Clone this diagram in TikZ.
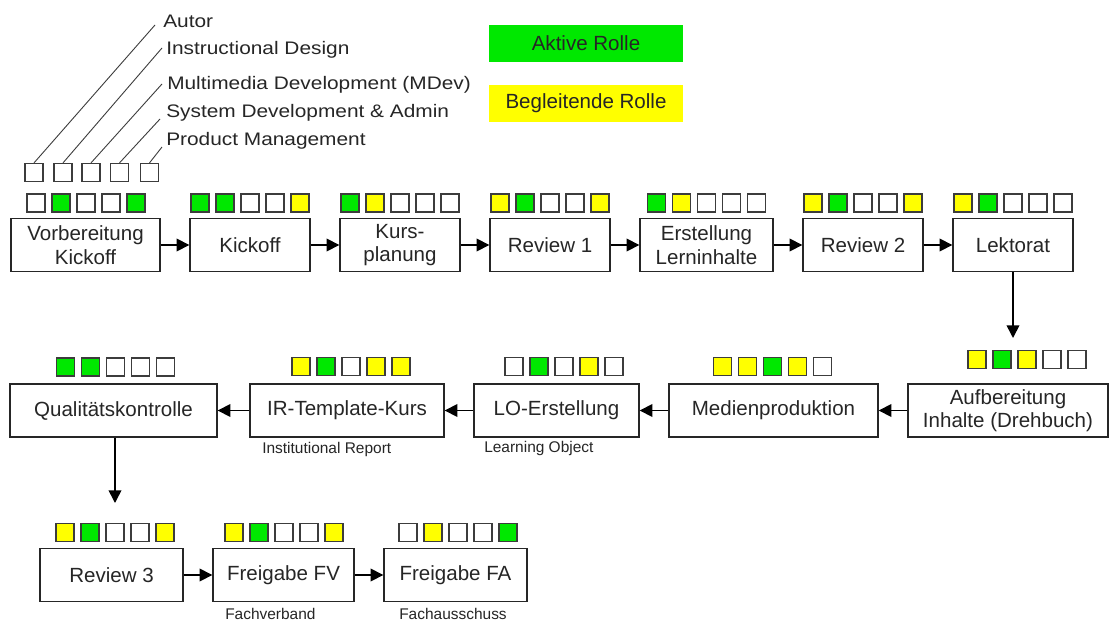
\documentclass[tikz,border=0pt]{standalone}
\usepackage{fontspec}
\setmainfont{Liberation Sans}
\newfontfamily\widefont{Liberation Sans}[FakeStretch=1.15]
\usetikzlibrary{arrows.meta,calc}

% one drawing unit = one pixel of the 1110 x 621 canvas
\newdimen\pxu \pxu=0.75pt

\definecolor{gn}{RGB}{0,232,0}
\definecolor{yl}{RGB}{255,255,0}
\definecolor{wh}{RGB}{255,255,255}
\definecolor{ink}{RGB}{38,38,38}
\definecolor{frame}{RGB}{60,60,60}

\tikzset{
  stepbox/.style={draw=ink, line width=1.4\pxu, fill=white, inner sep=0pt,
    align=center, text=ink, minimum height=53\pxu,
    font=\fontsize{15.4}{17.5}\selectfont},
  rolesq/.style={draw=frame, line width=1.2\pxu, minimum size=18\pxu, inner sep=0pt},
  keybox/.style={inner sep=0pt, minimum width=194\pxu, minimum height=37\pxu,
    text=ink, font=\fontsize{15.4}{17.5}\selectfont},
  rolelabel/.style={anchor=base west, inner sep=0pt, text=ink,
    font=\widefont\fontsize{13.6}{16}\selectfont},
  note/.style={anchor=west, inner sep=0pt, text=ink,
    font=\fontsize{11.6}{13}\selectfont},
  flow/.style={draw=black, line width=1.6\pxu,
    -{Triangle[length=9.5pt,width=9.5pt]}},
  pointer/.style={draw=frame, line width=0.9\pxu},
}

% five role squares centred at (#2,#3), named #1-1 ... #1-5
\newcommand\rolerow[4]{%
  \foreach \c [count=\i] in {#4} {
    \node[rolesq, fill=\c] (#1-\i) at ({#2+(\i-3)*25},#3) {};
  }%
}

\begin{document}
\begin{tikzpicture}[x=0.75pt, y=-0.75pt]
\useasboundingbox[fill=white] (0,0) rectangle (1110,621);

% ---- key: the five roles ----
\node[rolelabel] (lAutor) at (163,27)  {Autor};
\node[rolelabel] (lID)    at (166,54)  {Instructional Design};
\node[rolelabel] (lMDev)  at (167,89)  {Multimedia Development (MDev)};
\node[rolelabel] (lSys)   at (166,117) {System Development \& Admin};
\node[rolelabel] (lPM)    at (166,145) {Product Management};

\node[rolesq, fill=white] (k1) at (34,172.5)  {};
\node[rolesq, fill=white] (k2) at (63,172.5)  {};
\node[rolesq, fill=white] (k3) at (91,172.5)  {};
\node[rolesq, fill=white] (k4) at (119.5,172.5) {};
\node[rolesq, fill=white] (k5) at (149.5,172.5) {};

\draw[pointer] (k1.north) -- ($(lAutor.base west)+(-8,-2)$);
\draw[pointer] (k2.north) -- ($(lID.base west)+(-4,-6)$);
\draw[pointer] (k3.north) -- ($(lMDev.base west)+(-5,-5)$);
\draw[pointer] (k4.north) -- ($(lSys.base west)+(-6,2)$);
\draw[pointer] (k5.north) -- ($(lPM.base west)+(-4,2)$);

% ---- key: the two kinds of involvement ----
\node[keybox, fill=gn] (active) at (586,43.5)  {Aktive Rolle};
\node[keybox, fill=yl] (assist) at (586,103.5) {Begleitende Rolle};

% ---- first row ----
\node[stepbox, minimum width=149\pxu] (s1) at (85.5,245) {Vorbereitung\\Kickoff};
\node[stepbox, minimum width=120\pxu] (s2) at (250,245)  {Kickoff};
\node[stepbox, minimum width=120\pxu] (s3) at (400,245)  {Kurs-\\planung};
\node[stepbox, minimum width=120\pxu] (s4) at (550,245)  {Review 1};
\node[stepbox, minimum width=133\pxu] (s5) at (706.5,245) {Erstellung\\Lerninhalte};
\node[stepbox, minimum width=120\pxu] (s6) at (863,245)  {Review 2};
\node[stepbox, minimum width=120\pxu] (s7) at (1013,245) {Lektorat};

\rolerow{r1}{86}{203}{wh,gn,wh,wh,gn}
\rolerow{r2}{250}{203}{gn,gn,wh,wh,yl}
\rolerow{r3}{400}{203}{gn,yl,wh,wh,wh}
\rolerow{r4}{550}{203}{yl,gn,wh,wh,yl}
\rolerow{r5}{706.5}{203}{gn,yl,wh,wh,wh}
\rolerow{r6}{863}{203}{yl,gn,wh,wh,yl}
\rolerow{r7}{1013}{203}{yl,gn,wh,wh,wh}

\draw[flow] (s1.east) -- (s2.west);
\draw[flow] (s2.east) -- (s3.west);
\draw[flow] (s3.east) -- (s4.west);
\draw[flow] (s4.east) -- (s5.west);
\draw[flow] (s5.east) -- (s6.west);
\draw[flow] (s6.east) -- (s7.west);

% ---- second row (runs right to left) ----
\node[stepbox, minimum width=200\pxu] (s8)  at (1008,410.5) {Aufbereitung\\Inhalte (Drehbuch)};
\node[stepbox, minimum width=209\pxu] (s9)  at (773.5,410.5) {Medienproduktion};
\node[stepbox, minimum width=165\pxu] (s10) at (556.5,410.5) {LO-Erstellung};
\node[stepbox, minimum width=194\pxu] (s11) at (347,410.5)   {IR-Template-Kurs};
\node[stepbox, minimum width=207\pxu] (s12) at (113.5,410.5) {Qualitätskontrolle};

\rolerow{r8}{1027}{359.5}{yl,gn,yl,wh,wh}
\rolerow{r9}{772.5}{366.5}{yl,yl,gn,yl,wh}
\rolerow{r10}{564}{366.5}{wh,gn,wh,yl,wh}
\rolerow{r11}{351}{366.5}{yl,gn,wh,yl,yl}
\rolerow{r12}{115.5}{367}{gn,gn,wh,wh,wh}

\coordinate (down1) at (1013,338);
\draw[flow] (s7.south) -- (down1);
\draw[flow] (s8.west)  -- (s9.east);
\draw[flow] (s9.west)  -- (s10.east);
\draw[flow] (s10.west) -- (s11.east);
\draw[flow] (s11.west) -- (s12.east);

\node[note] (n11) at (262,449) {Institutional Report};
\node[note] (n10) at (484,448) {Learning Object};

% ---- third row ----
\node[stepbox, minimum width=143\pxu] (s13) at (111.5,575) {Review 3};
\node[stepbox, minimum width=141\pxu] (s14) at (283.5,575) {Freigabe FV};
\node[stepbox, minimum width=143\pxu] (s15) at (455.5,575) {Freigabe FA};

\rolerow{r13}{115}{532.5}{yl,gn,wh,wh,yl}
\rolerow{r14}{284}{532.5}{yl,gn,wh,wh,yl}
\rolerow{r15}{458}{532.5}{wh,yl,wh,wh,gn}

\coordinate (down2) at (115,503);
\draw[flow] (s12.south -| down2) -- (down2);
\draw[flow] (s13.east) -- (s14.west);
\draw[flow] (s14.east) -- (s15.west);

\node[note] (n14) at (225,614) {Fachverband};
\node[note] (n15) at (399,614) {Fachausschuss};
\end{tikzpicture}
\end{document}
